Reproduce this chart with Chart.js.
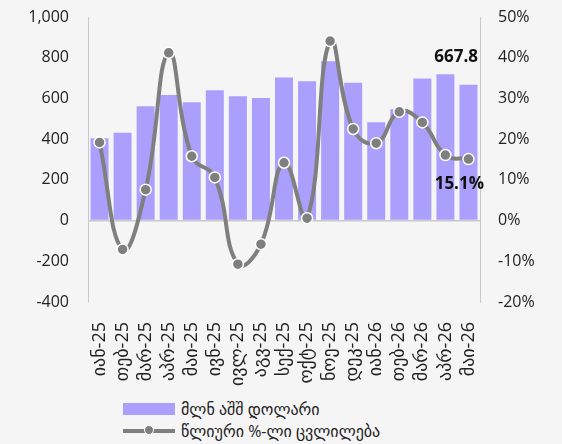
<!DOCTYPE html>
<html>
<head>
<meta charset="utf-8">
<script src="https://cdn.jsdelivr.net/npm/chart.js@4"></script>
<style>
  body { margin: 0; background: #f5f5f5; font-family: 'Open Sans', 'DejaVu Sans', sans-serif; }
  #wrap { width: 562px; height: 394px; position: relative; }
  #legend { position: absolute; left: 123px; top: 398px; font-size: 16px; color: #222; }
  .item { display: flex; align-items: center; height: 22px; }
  .box { width: 52px; height: 12px; background: #ab9ffd; margin-right: 6px; }
  .ln { width: 52px; height: 4px; background: #7f7f7f; margin-right: 6px; position: relative; }
  .ln span { position: absolute; left: 21px; top: -4px; width: 10px; height: 10px; border-radius: 50%; background: #7f7f7f; border: 1px solid #fff; box-sizing: border-box; }
</style>
</head>
<body>
<div id="wrap"><canvas id="myChart"></canvas></div>
<div id="legend">
  <div class="item"><div class="box"></div>მლნ აშშ დოლარი</div>
  <div class="item"><div class="ln"><span></span></div>წლიური %-ლი ცვლილება</div>
</div>
<script>
const meseebi = ['იან-25', 'თებ-25', 'მარ-25', 'აპრ-25', 'მაი-25', 'ივნ-25', 'ივლ-25', 'აგვ-25', 'სექ-25',
    'ოქტ-25', 'ნოე-25', 'დეკ-25', 'იან-26', 'თებ-26', 'მარ-26', 'აპრ-26', 'მაი-26']
const dolari = [405, 432, 562, 617, 581, 640, 611, 602, 703, 685, 783, 677, 483, 547, 698, 719, 667.8]
const cvlileba = [19.2, -7.1, 7.6, 41.2, 15.8, 10.6, -10.7, -5.8, 14.2, 0.6, 44.1, 22.5, 19.0, 26.7, 24.1, 16.1, 15.1]

const shrifti = "'Open Sans', 'DejaVu Sans', sans-serif"

// labels on the last bar and the last point
const bolo = {
    id: 'bolo',
    afterDatasetsDraw(chart) {
        const c = chart.ctx
        const n = meseebi.length - 1
        const bar = chart.getDatasetMeta(1).data[n]
        const pt = chart.getDatasetMeta(0).data[n]
        c.save()
        c.font = 'bold 17px ' + shrifti
        c.fillStyle = '#111'
        c.textAlign = 'right'
        c.textBaseline = 'middle'
        c.fillText(dolari[n].toFixed(1), chart.chartArea.right - 2, bar.y - 27)
        c.fillText(cvlileba[n].toFixed(1) + '%', chart.chartArea.right + 4, pt.y + 25)
        c.restore()
    }
}

new Chart(document.getElementById('myChart'), {
    data: {
        labels: meseebi,
        datasets: [{
            type: 'line',
            label: 'წლიური %-ლი ცვლილება',
            data: cvlileba,
            yAxisID: 'y1',
            borderColor: '#7f7f7f',
            borderWidth: 4,
            tension: 0.45,
            pointRadius: 5.5,
            pointBackgroundColor: '#7f7f7f',
            pointBorderColor: '#ffffff',
            pointBorderWidth: 1.5,
            order: 0
        }, {
            type: 'bar',
            label: 'მლნ აშშ დოლარი',
            data: dolari,
            yAxisID: 'y',
            backgroundColor: '#ab9ffd',
            categoryPercentage: 0.78,
            barPercentage: 1,
            order: 1
        }]
    },
    options: {
        responsive: true,
        maintainAspectRatio: false,
        animation: false,
        layout: { padding: 0, autoPadding: false },
        plugins: { legend: { display: false }, tooltip: { enabled: false } },
        scales: {
            x: {
                grid: { display: false },
                border: { display: false },
                ticks: { color: '#222', font: { size: 18, family: shrifti }, padding: 12, maxRotation: 90, minRotation: 90, autoSkip: false },
                afterFit: (s) => { s.height = 92; s.paddingLeft = 0; s.paddingRight = 0 }
            },
            y: {
                position: 'left',
                min: -400,
                max: 1000,
                ticks: { stepSize: 200, color: '#222', font: { size: 16, family: shrifti }, padding: 19 },
                grid: { color: (c) => c.tick && c.tick.value === 0 ? '#c8c8c8' : 'transparent', drawTicks: false, lineWidth: 1.5 },
                border: { color: '#c8c8c8' },
                afterFit: (s) => { s.width = 88; s.paddingTop = 17; s.paddingBottom = 0 }
            },
            y1: {
                position: 'right',
                min: -20,
                max: 50,
                ticks: { stepSize: 10, color: '#222', font: { size: 16, family: shrifti }, padding: 18, callback: (v) => v + '%' },
                grid: { display: false, drawTicks: false },
                border: { color: '#c8c8c8' },
                afterFit: (s) => { s.width = 82; s.paddingTop = 17; s.paddingBottom = 0 }
            }
        }
    },
    plugins: [bolo]
})
</script>
</body>
</html>
